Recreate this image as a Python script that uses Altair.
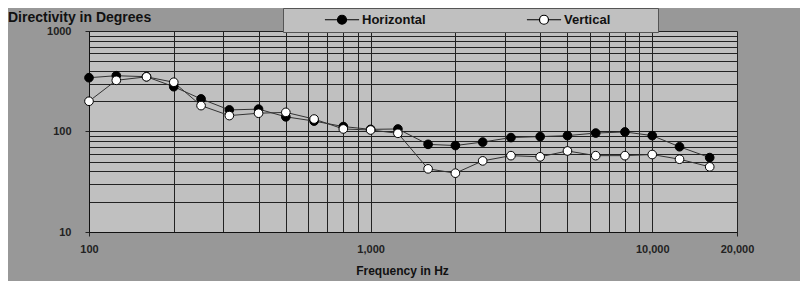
import altair as alt
import pandas as pd

freqs = [100, 125, 160, 200, 250, 315, 400, 500, 630, 800, 1000, 1250, 1600,
         2000, 2500, 3150, 4000, 5000, 6300, 8000, 10000, 12500, 16000]
horizontal = [343, 359, 351, 279, 211, 164, 167, 140, 127, 112, 105, 106, 74.5,
              72.5, 78.5, 87, 89, 91, 96.5, 99, 91, 70.5, 55]
vertical = [200, 323, 350, 309, 181, 144, 152, 155, 133, 106, 103.5, 96, 42.5,
            38.5, 51, 57.5, 56, 64, 57.5, 57.5, 59, 53, 44.5]
series_names = ["Horizontal", "Vertical"]

x_grid = [100, 200, 300, 400, 500, 600, 700, 800, 900,
          1000, 2000, 3000, 4000, 5000, 6000, 7000, 8000, 9000, 10000, 20000]
y_grid = [10, 20, 30, 40, 50, 60, 70, 80, 90,
          100, 200, 300, 400, 500, 600, 700, 800, 900, 1000]

rows = []
for f, h, v in zip(freqs, horizontal, vertical):
    rows.append({"freq": f, "deg": h, "series": series_names[0]})
    rows.append({"freq": f, "deg": v, "series": series_names[1]})
df = pd.DataFrame(rows)

FONT = "Liberation Sans"

x_enc = alt.X(
    "freq:Q",
    scale=alt.Scale(type="log", domain=[100, 20000]),
    axis=alt.Axis(
        values=x_grid,
        labelExpr="(datum.value==100||datum.value==1000||datum.value==10000||datum.value==20000) ? format(datum.value, ',') : ''",
        title="Frequency in Hz",
        titleFont=FONT, titleFontSize=12, titleFontWeight="bold", titleColor="#111",
        titleX=313, titleY=38, titleBaseline="middle",
        labelFont=FONT, labelFontSize=11, labelFontWeight="bold", labelColor="#222",
        labelPadding=7, labelFlush=False, labelOverlap=False,
        tickSize=4, tickColor="#222",
        tickOpacity={"condition": {"test": "datum.value==100||datum.value==20000", "value": 1}, "value": 0},
        grid=True, gridColor="#222", gridWidth=1, gridOpacity=1,
        domainColor="#111", domainWidth=1,
    ),
)
y_enc = alt.Y(
    "deg:Q",
    scale=alt.Scale(type="log", domain=[10, 1000]),
    axis=alt.Axis(
        values=y_grid,
        labelExpr="(datum.value==10||datum.value==100||datum.value==1000) ? datum.value + '' : ''",
        title=None,
        labelFont=FONT, labelFontSize=11, labelFontWeight="bold", labelColor="#222",
        labelPadding=14, labelOverlap=False,
        tickSize=4, tickColor="#222",
        tickOpacity={"condition": {"test": "datum.value==10||datum.value==100||datum.value==1000", "value": 1}, "value": 0},
        grid=True, gridColor="#222", gridWidth=1, gridOpacity=1,
        domainColor="#111", domainWidth=1,
    ),
)

lines = alt.Chart(df).mark_line(color="#333", strokeWidth=1).encode(
    x=x_enc, y=y_enc, detail="series:N"
)

symbol_path = "M-3.8,0L-1,0M1,0L3.8,0M1,0A1,1,0,1,1,-1,0A1,1,0,1,1,1,0Z"

points = alt.Chart(df).mark_point(
    filled=True, size=75, stroke="#000", strokeWidth=1, opacity=1
).encode(
    x=x_enc, y=y_enc,
    fill=alt.Fill(
        "series:N",
        scale=alt.Scale(domain=series_names, range=["#000000", "#ffffff"]),
        legend=alt.Legend(
            title="\u00a0", titleOrient="right", titlePadding=43,
            titleFontSize=13,
            orient="none", direction="horizontal",
            legendX=194, legendY=-23,
            symbolType=symbol_path, symbolSize=81,
            symbolStrokeColor="#000", symbolStrokeWidth=1.2,
            symbolOffset=47.5,
            labelFont=FONT, labelFontSize=13, labelFontWeight="bold", labelColor="#111",
            labelOffset=13.5, columnPadding=64,
            labelLimit=300,
            fillColor="#c0c0c0", strokeColor="#555", padding=5,
        ),
    ),
)

chart = alt.layer(lines, points).properties(
    width=648, height=201,
    background="#989898",
    autosize=alt.AutoSizeParams(type="none"),
    padding={"left": 81, "top": 23, "right": 63, "bottom": 49},
    title=alt.TitleParams(
        "Directivity in Degrees", anchor="start", frame="group", dx=-81, dy=23,
        font=FONT, fontSize=14, fontWeight="bold", color="#111", offset=6,
    ),
).configure_view(
    fill="#c0c0c0", stroke=None
)

chart.save("out.html", embed_options={"renderer": "svg", "actions": False})
